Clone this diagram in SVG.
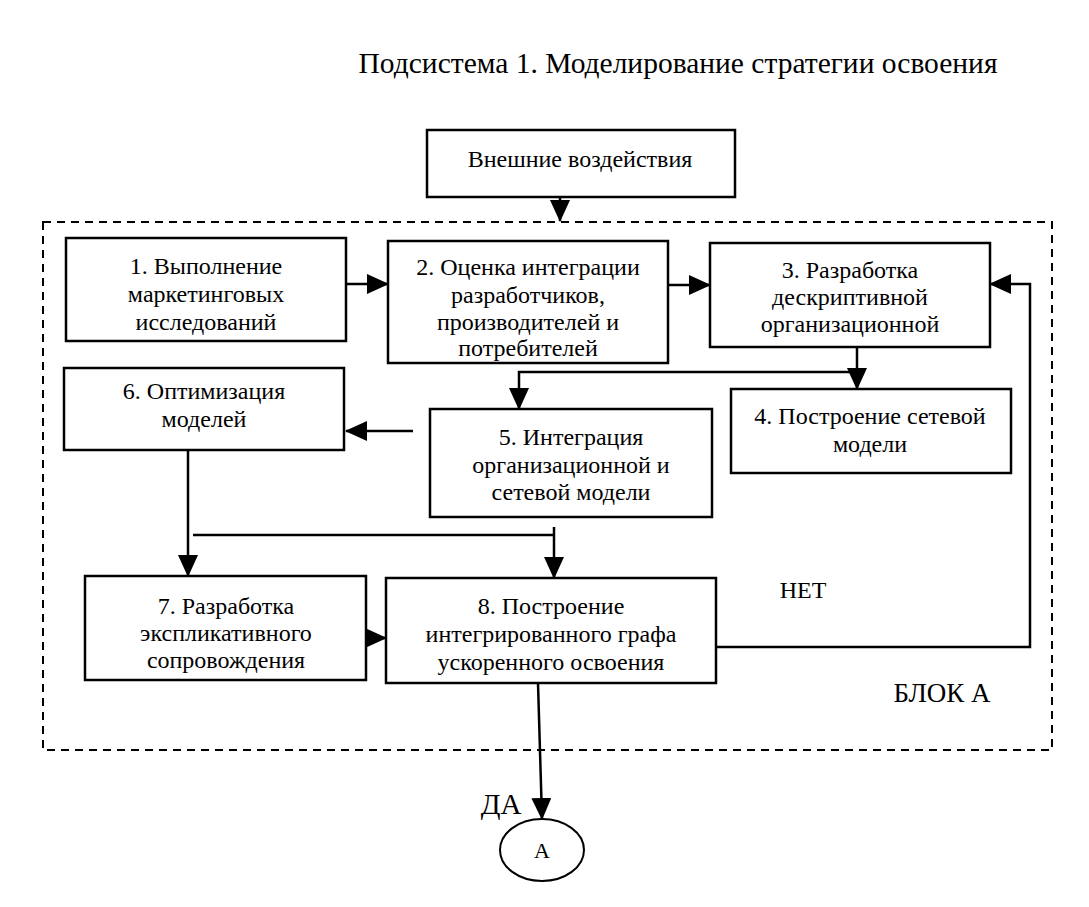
<svg xmlns="http://www.w3.org/2000/svg" width="1089" height="907" viewBox="0 0 1089 907">
<defs>
<marker id="ah" markerUnits="userSpaceOnUse" markerWidth="22" markerHeight="20" refX="21" refY="10" orient="auto" viewBox="0 0 22 20">
<path d="M0,0 L22,10 L0,20 z" fill="#000"/>
</marker>
</defs>
<style>
.box{fill:#fff;stroke:#000;stroke-width:2.5}
.t{font-family:"Liberation Serif","Times New Roman",serif;font-size:24px;text-anchor:middle;fill:#000}
.c{fill:none;stroke:#000;stroke-width:2.5}
.ca{fill:none;stroke:#000;stroke-width:2.5;marker-end:url(#ah)}
</style>
<rect width="1089" height="907" fill="#fff"/>
<text x="678" y="73" style="font-family:'Liberation Serif','Times New Roman',serif;font-size:29.5px;text-anchor:middle">Подсистема 1. Моделирование стратегии освоения</text>
<g id="blockA">
<rect x="43" y="222" width="1009" height="528" fill="none" stroke="#000" stroke-width="2" stroke-dasharray="8,6"/>
<text x="942" y="702" style="font-family:'Liberation Serif','Times New Roman',serif;font-size:27px;text-anchor:middle">БЛОК А</text>
</g>
<g id="ext"><rect class="box" x="427" y="130" width="308" height="67"/><text class="t" x="580" y="167">Внешние воздействия</text></g>
<g id="n1"><rect class="box" x="66" y="238" width="280" height="103"/><text class="t" x="206" y="274">1. Выполнение</text><text class="t" x="206" y="302">маркетинговых</text><text class="t" x="206" y="330">исследований</text></g>
<g id="n2"><rect class="box" x="388" y="241" width="280" height="122"/><text class="t" x="528" y="275">2. Оценка интеграции</text><text class="t" x="528" y="303">разработчиков,</text><text class="t" x="528" y="330">производителей и</text><text class="t" x="528" y="356">потребителей</text></g>
<g id="n3"><rect class="box" x="710" y="243" width="280" height="104"/><text class="t" x="850" y="278">3. Разработка</text><text class="t" x="850" y="305">дескриптивной</text><text class="t" x="850" y="332">организационной</text></g>
<g id="n4"><rect class="box" x="731" y="389" width="280" height="84"/><text class="t" x="870" y="424">4. Построение сетевой</text><text class="t" x="870" y="452">модели</text></g>
<g id="n5"><rect class="box" x="430" y="409" width="282" height="108"/><text class="t" x="571" y="445">5. Интеграция</text><text class="t" x="571" y="473">организационной и</text><text class="t" x="571" y="500">сетевой модели</text></g>
<g id="n6"><rect class="box" x="64" y="368" width="280" height="82"/><text class="t" x="204" y="399">6. Оптимизация</text><text class="t" x="204" y="427">моделей</text></g>
<g id="n7"><rect class="box" x="85" y="576" width="281" height="104"/><text class="t" x="226" y="614">7. Разработка</text><text class="t" x="226" y="641">экспликативного</text><text class="t" x="226" y="668">сопровождения</text></g>
<g id="n8"><rect class="box" x="386" y="578" width="330" height="105"/><text class="t" x="551" y="614">8. Построение</text><text class="t" x="551" y="642">интегрированного графа</text><text class="t" x="551" y="670">ускоренного освоения</text></g>
<g id="nA"><ellipse cx="542" cy="850" rx="42" ry="31" fill="#fff" stroke="#000" stroke-width="2"/><text class="t" x="542" y="858" style="font-size:22px">А</text></g>
<g id="connectors">
<path class="ca" d="M560,197 V221"/>
<path class="ca" d="M346,284 H388"/>
<path class="ca" d="M668,285 H710"/>
<path class="ca" d="M857,347 V389"/>
<path class="ca" d="M857,372 H519 V409"/>
<path class="ca" d="M413,431 H346"/>
<path class="ca" d="M188,450 V576"/>
<path class="c" d="M193,535 H554"/>
<path class="ca" d="M554,527 V578"/>
<path class="ca" d="M366,638 H386"/>
<path class="ca" d="M716,647 H1030 V284 H990"/>
<path class="ca" d="M538,683 L542,819"/>
<text x="803" y="598" style="font-family:'Liberation Serif','Times New Roman',serif;font-size:24px;text-anchor:middle">НЕТ</text>
<text x="501" y="814" style="font-family:'Liberation Serif','Times New Roman',serif;font-size:29px;text-anchor:middle">ДА</text>
</g>
</svg>
